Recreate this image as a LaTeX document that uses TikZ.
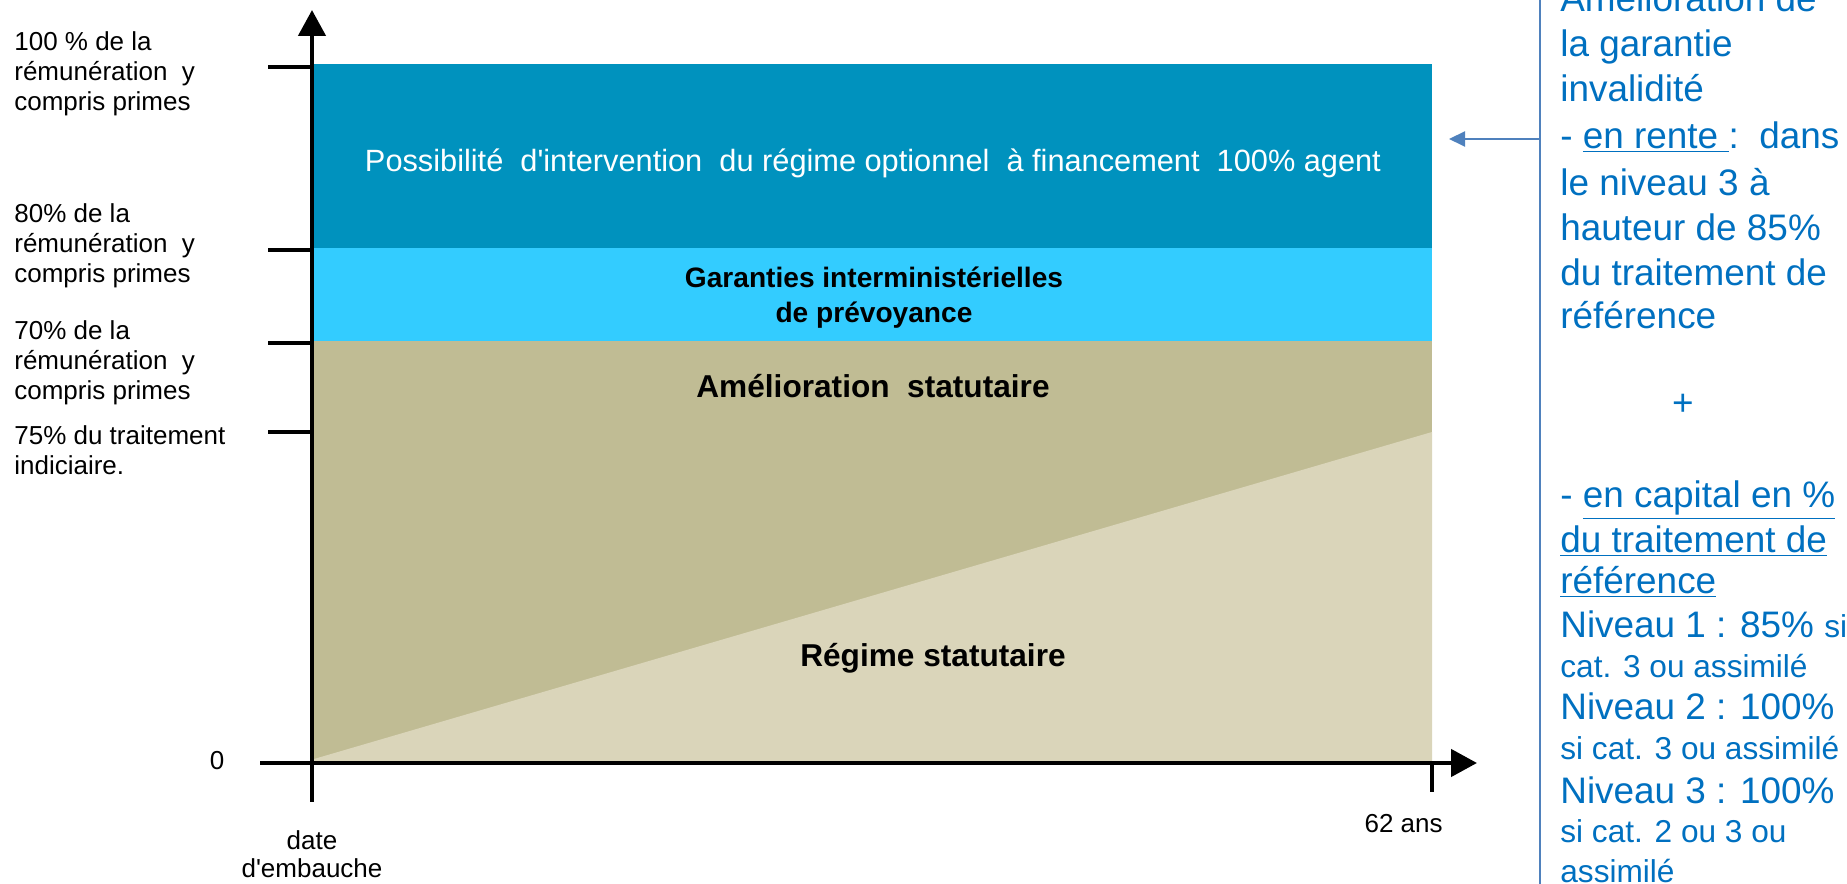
\documentclass[tikz,border=0pt]{standalone}
\usepackage{fontspec}
\setmainfont{Liberation Sans}
\usepackage{xcolor}
\usepackage{tikz}
\usetikzlibrary{arrows.meta}

\definecolor{optblue}{RGB}{0,146,190}
\definecolor{garblue}{RGB}{51,204,255}
\definecolor{ameltan}{RGB}{192,188,148}
\definecolor{regtan}{RGB}{218,213,186}
\definecolor{notecol}{RGB}{0,112,192}
\definecolor{linecol}{RGB}{79,129,189}

\tikzset{
  axis/.style={line width=2.6pt, -{Triangle[length=0.52cm,width=0.54cm]}},
  ticktrait/.style={line width=2.4pt},
  lab/.style={anchor=base west, inner sep=0pt, font=\fontsize{14.8}{17}\selectfont},
  band/.style={anchor=base, inner sep=0pt, font=\bfseries\fontsize{18}{21}\selectfont},
  note/.style={anchor=base west, inner sep=0pt, text=notecol, font=\fontsize{21}{25}\selectfont},
  notesm/.style={note, font=\fontsize{18}{21}\selectfont},
}

\begin{document}
\begin{tikzpicture}[x=0.02cm, y=-0.02cm]
         \useasboundingbox (0,0) rectangle (1847,884);
         \clip (0,0) rectangle (1847,884);
         % Bands
         \fill [optblue] (312,64) rectangle (1432,248);
         \fill [garblue] (312,248) rectangle (1432,341);
         \fill [ameltan] (312,341) rectangle (1432,763);
         \fill [regtan] (314,759) -- (1432,432) -- (1432,763) -- (312,763) -- cycle;
         \node [anchor=base, inner sep=0pt, text=white, font=\fontsize{17.5}{20}\selectfont] (opt) at (873,172)
           {Possibilité\ \ d\textquotesingle intervention\ \ du régime optionnel\ \ à financement\ \ 100\% agent};
         \node [band, font=\bfseries\fontsize{16}{19}\selectfont] (garant1) at (874,288) {Garanties interministérielles};
         \node [band, font=\bfseries\fontsize{16}{19}\selectfont] (garant2) at (874,323) {de prévoyance};
         \node [band] (amel) at (873,398) {Amélioration\ \ statutaire};
         \node [band] (regime) at (933,667) {Régime statutaire};
         % Axes
         \coordinate (orig) at (312,763);
         \coordinate (ybot) at (312,802);
         \coordinate (ytop) at (312,10);
         \coordinate (xleft) at (260,763);
         \coordinate (xright) at (1477,763);
         \draw [axis] (ybot) -- (ytop);
         \draw [axis] (xleft) -- (xright);
         \foreach \y in {67, 250, 343, 432} \draw [ticktrait] (268,\y) -- (312,\y);
         \coordinate (end) at (1432,763);
         \coordinate (endlow) at (1432,792);
         \draw [ticktrait] (end) -- (endlow);
         % Levels
         \foreach \y/\txt [count=\i] in {51/100 \% de la, 81/rémunération\ \ y, 111/compris primes,
                                          223/80\% de la, 253/rémunération\ \ y, 283/compris primes,
                                          340/70\% de la, 370/rémunération\ \ y, 400/compris primes,
                                          445/75\% du traitement, 475/indiciaire.}
           \node [lab] (lev\i) at (14,\y) {\txt};
         \node [lab, anchor=base] (zero) at (217,770) {0};
         \node [lab, anchor=base] (date1) at (312,850) {date};
         \node [lab, anchor=base] (date2) at (312,878) {d\textquotesingle embauche};
         \node [lab, anchor=base east] (age) at (1443,833) {62 ans};
         % Note
         \coordinate (boxtop) at (1540,0);
         \coordinate (boxbot) at (1540,884);
         \draw [linecol, line width=1.2pt] (boxtop) -- (boxbot);
         \coordinate (boxedge) at (1540,139);
         \coordinate (bandtip) at (1449,139);
         \draw [linecol, line width=1.2pt, -{Triangle[length=0.32cm,width=0.3cm]}] (boxedge) -- (bandtip);
         \node [note] (n1) at (1560,12) {Amélioration de};
         \node [note] (n2) at (1560,57) {la garantie};
         \node [note] (n3) at (1560,102) {invalidité};
         \node [note] (n4) at (1560,149) {- \underline{en rente }:\ \ dans};
         \node [note] (n5) at (1560,196) {le niveau 3 à};
         \node [note] (n6) at (1560,241) {hauteur de 85\%};
         \node [note] (n7) at (1560,286) {du traitement de};
         \node [note] (n8) at (1560,329) {référence};
         \node [note, anchor=center] (plus) at (1683,405) {+};
         \node [note] (n9) at (1560,508) {- \underline{en capital en \%}};
         \node [note] (n10) at (1560,553) {\underline{du traitement de}};
         \node [note] (n11) at (1560,594) {\underline{référence}};
         \node [note] (n12) at (1560,638) {Niveau 1 : 85\% {\fontsize{18}{21}\selectfont si}};
         \node [notesm] (n13) at (1560,678) {cat. 3 ou assimilé};
         \node [note] (n14) at (1560,720) {Niveau 2 : 100\%};
         \node [notesm] (n15) at (1560,760) {si cat. 3 ou assimilé};
         \node [note] (n16) at (1560,804) {Niveau 3 : 100\%};
         \node [notesm] (n17) at (1560,843) {si cat. 2 ou 3 ou};
         \node [notesm] (n18) at (1560,883) {assimilé};
\end{tikzpicture}
\end{document}
